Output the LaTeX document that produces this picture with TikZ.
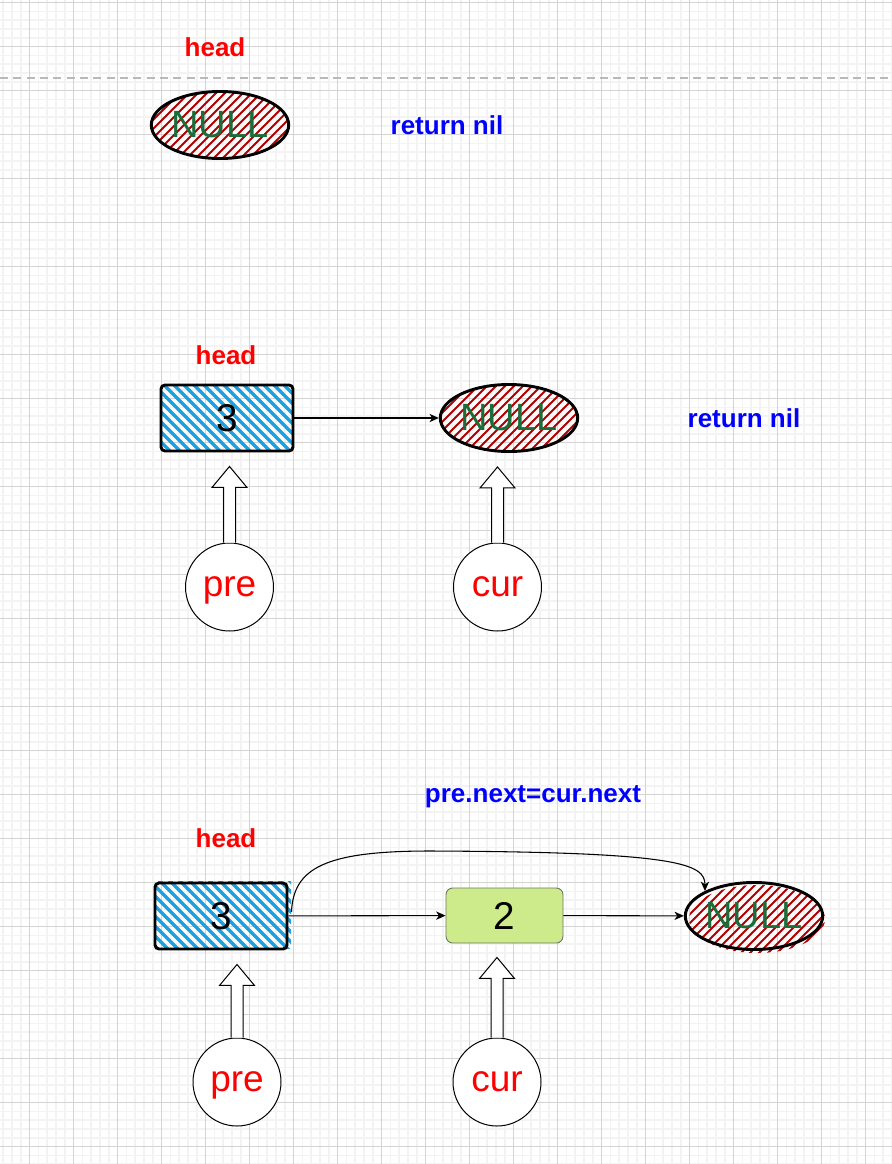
\documentclass[tikz,border=0pt]{standalone}
\usepackage{fontspec}
\setmainfont{Liberation Sans}
\usetikzlibrary{shapes.geometric,arrows.meta,calc}
\newlength\pu
\setlength\pu{0.75pt}
\definecolor{nullgreen}{RGB}{25,110,60}
\definecolor{hatchred}{RGB}{178,0,0}
\definecolor{hatchblue}{RGB}{27,161,226}
\definecolor{nodegreen}{RGB}{205,235,139}
\definecolor{nodeedge}{RGB}{110,120,100}
\definecolor{majorgrid}{RGB}{212,212,212}
\definecolor{minorgrid}{RGB}{243,243,243}
\definecolor{dashgray}{RGB}{185,185,185}

% block arrow from a pointer circle up to the node it points at
\newcommand\ptrarrow[2]{%
  \coordinate (#1tip) at ($(#1.north |- #2.south)+(0,14)$);
  \draw[blockarrow] ($(#1.north)+(-6,0)$) -- ($(#1tip)+(-6,21)$) -- ($(#1tip)+(-17.5,21)$)
    -- (#1tip) -- ($(#1tip)+(17.5,21)$) -- ($(#1tip)+(6,21)$) -- ($(#1.north)+(6,0)$);}

\begin{document}
\begin{tikzpicture}[x=0.75pt,y=-0.75pt,
  headlbl/.style={text=red, font=\fontsize{19.5}{22}\selectfont\bfseries, inner sep=0pt},
  retlbl/.style={text=blue, font=\fontsize{19.5}{22}\selectfont\bfseries, inner sep=0pt},
  redhatch/.style={path picture={
    \foreach \t in {-117,-108,...,117}
      \draw[hatchred, line width=1.5pt]
        ($(path picture bounding box.center)+(\t-45,45)$) -- ++(90,-90);}},
  bluehatch/.style={path picture={
    \foreach \t in {-120,-110,...,120}
      \draw[hatchblue, line width=2.6pt]
        ($(path picture bounding box.center)+(\t-45,-45)$) -- ++(90,90);}},
  nullshape/.style={ellipse, draw=black, line width=2.2pt,
    minimum width=135\pu, minimum height=67\pu, inner sep=0pt,
    text=nullgreen, font=\fontsize{28.5}{30}\selectfont},
  nullnode/.style={nullshape, redhatch},
  boxshape/.style={rectangle, rounded corners=3pt, draw=black, line width=2.2pt,
    minimum width=132\pu, minimum height=66\pu, inner sep=0pt,
    font=\fontsize{29}{30}\selectfont},
  valbox/.style={boxshape, bluehatch},
  plainbox/.style={rectangle, rounded corners=5pt, draw=nodeedge, line width=0.7pt, fill=nodegreen,
    minimum width=117\pu, minimum height=55\pu, inner sep=0pt,
    font=\fontsize{29}{30}\selectfont},
  ptr/.style={circle, draw=black, line width=0.75pt, fill=white, minimum size=88\pu, inner sep=0pt,
    text=red, font=\fontsize{27.75}{30}\selectfont, text height=14.4pt, text depth=0pt},
  blockarrow/.style={draw=black, line width=0.75pt, fill=white, line join=miter},
  link/.style={draw=black, line width=0.8pt, -{Stealth[length=7pt,width=6.2pt,inset=2pt]}}]

% page and grid paper
\fill[white] (0,0) rectangle (892,1164);
\useasboundingbox (0,0) rectangle (892,1164);
\foreach \k in {0,...,101} \draw[minorgrid, line width=1.2pt] ({3.1+\k*8.8},0) -- ++(0,1164);
\foreach \k in {0,...,132} \draw[minorgrid, line width=1.2pt] (0,{2.5+\k*8.8}) -- ++(892,0);
\foreach \k in {0,...,19} \draw[majorgrid, line width=0.75pt] ({29.5+\k*44},0) -- ++(0,1164);
\foreach \k in {0,...,26} \draw[majorgrid, line width=0.75pt] (0,{2.5+\k*44}) -- ++(892,0);
\draw[dashgray, line width=1pt, dash pattern=on 6pt off 4pt] (0,78) -- (892,78);

% case 1: empty list
\node[headlbl] (h1) at (215,47) {head};
\node[nullnode] (n1) at (220,125) {NULL};
\node[retlbl] (r1) at (447,125) {return nil};

% case 2: a single node
\node[headlbl] (h2) at (226,355) {head};
\node[valbox] (b2) at (227,418) {3};
\node[nullnode] (n2) at (509,418) {NULL};
\node[retlbl] (r2) at (744,418) {return nil};
\node[ptr] (p2) at (229.5,587) {pre};
\node[ptr] (c2) at (497.5,587) {cur};
\draw[link] (b2) -- (n2);
\ptrarrow{p2}{b2}
\ptrarrow{c2}{n2}

% case 3: unlink the node after pre
\node[retlbl] (eq) at (533,797) {pre.next=cur.next};
\node[headlbl] (h3) at (226,838) {head};
% loose, slightly offset hatching under the sketched shapes
\path[bluehatch] (156,881) rectangle (291,948);
\path[redhatch] (757,919) ellipse [x radius=68, y radius=34];
\node[boxshape] (b3) at (221,916) {3};
\node[plainbox] (v3) at (504.5,915.5) {2};
\node[nullshape] (n3) at (754,916) {NULL};
\node[ptr] (p3) at (237,1082) {pre};
\node[ptr] (c3) at (497,1082) {cur};
\draw[link] (b3) -- (v3);
\draw[link] (v3) -- (n3);
\coordinate (cs) at ($(b3.east)+(3,-4)$);
\draw[link] (cs) .. controls ($(cs)+(2,-44)$) and (325,851) .. (430,851)
  .. controls (680,852) and (705,864) .. (n3.153);
\ptrarrow{p3}{b3}
\ptrarrow{c3}{v3}
\end{tikzpicture}
\end{document}
